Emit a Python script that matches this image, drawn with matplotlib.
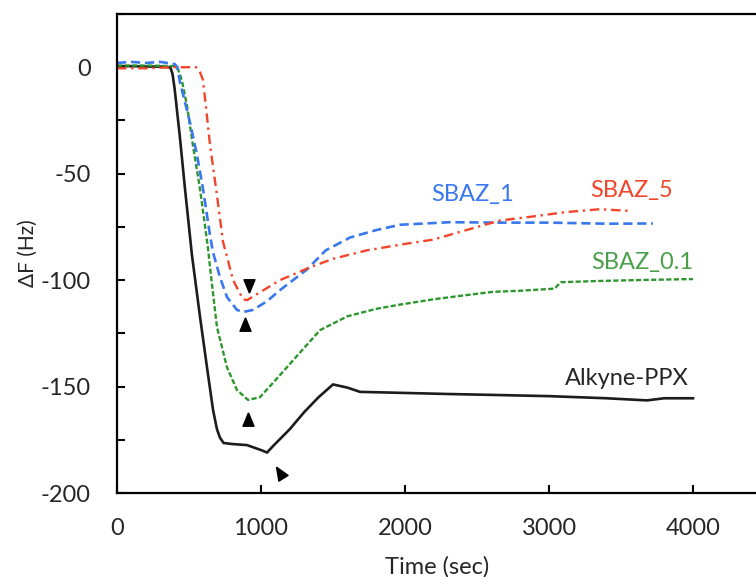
import matplotlib
matplotlib.use("Agg")
import math
import matplotlib.pyplot as plt
from matplotlib.ticker import MultipleLocator, FixedLocator, NullLocator

plt.rcParams['font.family'] = ['Lato', 'DejaVu Sans']
plt.rcParams['axes.unicode_minus'] = False

# ---- data ----
t_alkyne = [0, 100, 200, 300, 370, 385, 400, 437, 472, 520, 576, 625, 667, 694, 715, 740, 800,
            903, 1007, 1042, 1083, 1200, 1300, 1400, 1500, 1600, 1688, 2000, 2300, 2660,
            3000, 3400, 3680, 3800, 4000]
y_alkyne = [0.5, 0.5, 0.3, 0.3, 0, -3, -10, -33, -57, -88, -117, -141, -161, -170, -174, -176.5, -177,
            -177.5, -180, -181, -178, -170, -162, -155, -149, -150.5, -152.5, -153, -153.5, -154,
            -154.5, -155.5, -156.5, -155.5, -155.5]

t_sbaz01 = [0, 200, 400, 424, 450, 486, 528, 576, 632, 646, 694, 764, 833, 910, 993, 1132, 1271,
            1410, 1600, 1800, 1965, 2200, 2430, 2611, 2800, 3040, 3080, 3300, 3600, 4000]
y_sbaz01 = [0.8, 0.8, 0.5, -1, -6, -18, -37, -57, -85, -94, -122, -141, -151.6, -156.3, -155,
            -144.6, -134, -123.5, -117, -113.5, -111.5, -109, -107, -105.5, -105, -104, -101,
            -100.5, -100, -99.5]

t_sbaz1 = [0, 100, 200, 300, 400, 420, 437, 507, 555, 597, 646, 667, 715, 764, 833, 875, 944,
           1040, 1132, 1319, 1450, 1618, 1800, 1965, 2312, 2660, 3000, 3400, 3722]
y_sbaz1 = [2, 2.5, 2, 2.5, 1.5, 0, -7, -26, -41, -57, -79, -87, -98.6, -108, -114, -115, -114,
           -110, -104.7, -95, -86, -80, -76.5, -74, -72.8, -73, -73, -73.5, -73.4]

t_sbaz5 = [0, 200, 400, 550, 575, 597, 620, 646, 694, 736, 764, 806, 875, 903, 950, 1132, 1340,
           1500, 1736, 2000, 2194, 2400, 2660, 2900, 3125, 3354, 3562]
y_sbaz5 = [-0.5, -0.5, 0, 0, -2, -6, -20, -36.6, -60, -82, -89, -100, -109, -109.4, -107.5,
           -100, -94, -90, -86, -83, -81, -77, -72, -70, -68, -66.7, -67.5]

# arrowhead markers: x, y, rotation (deg, counter-clockwise from pointing up)
arrow_x = [917, 889, 910, 1132]
arrow_y = [-102.3, -121, -165.7, -190.6]
arrow_rot = [180, 0, 0, 32]

labels = ["SBAZ_1", "SBAZ_5", "SBAZ_0.1", "Alkyne-PPX"]
label_x = [2472, 3576, 3646, 3542]
label_y = [-60, -57.7, -91.5, -146]

xticks = [0, 1000, 2000, 3000, 4000]
yticks = [0, -50, -100, -150, -200]

c_black = '#1c1c1c'
c_green = '#2e962e'
c_blue = '#3a78ee'
c_red = '#f2452a'
label_colors = [c_blue, c_red, '#4aa04a', '#262626']


def tri_marker(rot):
    base = [(0.0, 1.0), (-0.72, -0.75), (0.72, -0.75), (0.0, 1.0)]
    a = math.radians(rot)
    ca, sa = math.cos(a), math.sin(a)
    return [(x * ca - y * sa, x * sa + y * ca) for x, y in base]


fig = plt.figure(figsize=(7.56, 5.77), dpi=100)
ax = fig.add_axes([117/756, (577-493)/577, 4450*0.144/756, (493-14)/577])

ax.plot(t_alkyne, y_alkyne, color=c_black, lw=1.9, solid_joinstyle='round')
ax.plot(t_sbaz01, y_sbaz01, color=c_green, lw=1.7, dashes=(2.2, 1.0))
ax.plot(t_sbaz1, y_sbaz1, color=c_blue, lw=1.9, dashes=(3.5, 1.8))
ax.plot(t_sbaz5, y_sbaz5, color=c_red, lw=1.7, dashes=(4.0, 2.0, 1.0, 2.0))

for xx, yy, r in zip(arrow_x, arrow_y, arrow_rot):
    ax.plot([xx], [yy], marker=tri_marker(r), ms=11, color='black', mec='black',
            ls='none')

for s, xx, yy, c in zip(labels, label_x, label_y, label_colors):
    ax.text(xx, yy, s, color=c, fontsize=17, ha='center', va='center')

ax.set_xlim(0, 4450)
ax.set_ylim(-200, 25)
ax.xaxis.set_major_locator(FixedLocator(xticks))
ax.xaxis.set_minor_locator(NullLocator())
ax.yaxis.set_major_locator(FixedLocator(yticks))
ax.yaxis.set_minor_locator(MultipleLocator(25))
ax.tick_params(axis='both', which='both', direction='in', length=6, width=1.5,
               colors='black', labelcolor='#262626', labelsize=17)
ax.tick_params(axis='y', pad=19)
ax.tick_params(axis='x', pad=18)
for sp in ['left', 'bottom', 'top']:
    ax.spines[sp].set_linewidth(1.6)
    ax.spines[sp].set_color('black')
ax.spines['right'].set_visible(False)

ax.set_xlabel('Time (sec)', fontsize=17, color='#262626', labelpad=12)
ax.set_ylabel('ΔF (Hz)', fontsize=15, color='#262626', labelpad=2)

fig.savefig('out.png', dpi=100)
